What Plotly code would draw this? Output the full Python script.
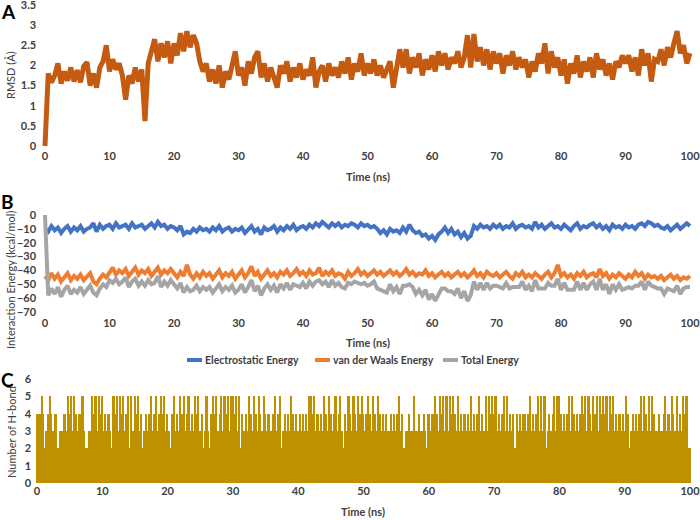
import plotly.graph_objects as go

# time axis: 0 to 100 ns, sampled every 0.5 ns for A and B, 0.25 ns for C
time_ab = [i * 0.5 for i in range(201)]
time_c = [i * 0.25 for i in range(401)]

# Panel A - RMSD (Å)
rmsd = [
    0.00, 1.80, 1.58, 1.75, 2.05, 1.55, 1.85, 1.62, 1.95, 1.60,
    1.88, 1.58, 1.98, 2.08, 1.50, 1.80, 1.45, 1.95, 2.10, 2.50,
    1.85, 2.15, 1.90, 2.05, 1.75, 1.15, 1.75, 1.55, 1.95, 1.60,
    1.90, 0.62, 2.05, 2.30, 2.65, 2.10, 2.55, 2.20, 2.60, 2.05,
    2.55, 2.25, 2.80, 2.35, 2.85, 2.45, 2.75, 2.55, 2.10, 1.85,
    2.05, 1.60, 1.90, 1.55, 2.00, 1.45, 1.85, 1.65, 2.05, 2.35,
    1.75, 1.95, 1.50, 2.10, 1.80, 2.20, 2.35, 1.70, 2.05, 1.60,
    1.95, 1.70, 1.45, 2.00, 1.80, 2.10, 1.60, 1.95, 1.70, 2.05,
    1.65, 1.90, 1.75, 2.20, 1.45, 1.85, 2.00, 1.60, 2.05, 1.75,
    1.95, 1.70, 2.10, 1.80, 2.20, 1.65, 2.05, 1.85, 2.30, 1.75,
    2.05, 1.80, 2.15, 1.75, 2.00, 1.70, 1.95, 2.10, 1.45, 1.85,
    2.40, 1.95, 2.40, 1.80, 2.20, 1.95, 2.30, 1.75, 2.15, 1.90,
    2.25, 1.85, 2.35, 2.00, 2.30, 1.90, 2.20, 2.05, 2.35, 1.95,
    2.20, 2.75, 1.95, 2.78, 2.10, 2.45, 2.00, 2.40, 1.90, 2.35,
    2.05, 2.30, 1.80, 2.25, 2.00, 2.35, 1.90, 2.20, 1.95, 2.15,
    1.70, 2.10, 1.85, 2.30, 2.05, 2.55, 1.80, 2.35, 1.95, 2.20,
    1.75, 2.15, 1.55, 2.05, 1.80, 2.25, 1.70, 2.10, 1.85, 2.20,
    1.70, 2.30, 1.90, 2.15, 1.75, 2.05, 1.65, 2.10, 1.95, 2.25,
    2.05, 2.25, 1.85, 2.20, 1.75, 2.40, 2.00, 2.30, 1.60, 2.15,
    2.10, 2.40, 2.00, 2.45, 2.20, 2.55, 2.85, 2.30, 2.50, 2.05,
    2.30,
]

# Panel B - interaction energies (kcal/mol)
electrostatic = [
    -10, -12, -8, -11, -9, -13, -10, -8, -12, -9,
    -11, -8, -12, -10, -9, -6, -12, -7, -10, -8,
    -7, -10, -6, -9, -8, -7, -10, -6, -9, -8,
    -7, -10, -8, -6, -9, -5, -8, -7, -10, -8,
    -9, -11, -8, -14, -12, -13, -10, -12, -9, -11,
    -10, -12, -9, -11, -8, -12, -10, -9, -12, -10,
    -11, -9, -13, -10, -8, -12, -10, -14, -9, -11,
    -10, -8, -12, -9, -11, -8, -10, -7, -11, -9,
    -8, -10, -7, -9, -6, -8, -5, -7, -9, -6,
    -8, -6, -9, -7, -8, -6, -7, -9, -6, -8,
    -7, -9, -8, -10, -13, -11, -14, -10, -12, -11,
    -13, -9, -12, -7, -11, -13, -12, -15, -14, -17,
    -15, -18, -14, -12, -9, -13, -10, -14, -12, -16,
    -13, -17, -15, -8, -10, -7, -9, -8, -10, -7,
    -9, -7, -10, -8, -9, -6, -10, -8, -7, -9,
    -8, -10, -5, -9, -7, -10, -8, -6, -9, -8,
    -10, -7, -9, -11, -8, -6, -10, -8, -9, -7,
    -6, -9, -7, -10, -8, -11, -7, -9, -8, -10,
    -7, -9, -8, -10, -7, -6, -8, -5, -6, -8,
    -7, -9, -10, -8, -11, -9, -7, -10, -8, -6,
    -8,
]
vdw = [
    -44, -47, -42, -46, -43, -48, -45, -42, -47, -44,
    -46, -43, -47, -44, -42, -48, -50, -46, -43, -45,
    -41, -38, -43, -40, -42, -39, -44, -41, -38, -43,
    -40, -42, -39, -44, -41, -38, -43, -40, -42, -39,
    -42, -45, -41, -44, -36, -43, -46, -42, -45, -41,
    -44, -42, -46, -43, -40, -45, -42, -44, -41, -46,
    -43, -40, -45, -42, -37, -44, -41, -46, -43, -40,
    -44, -42, -45, -41, -43, -40, -44, -42, -39, -43,
    -41, -44, -40, -43, -42, -38, -44, -41, -43, -40,
    -44, -42, -43, -46, -41, -44, -42, -39, -43, -41,
    -44, -42, -40, -43, -41, -44, -42, -40, -43, -41,
    -44, -42, -39, -43, -41, -44, -42, -43, -40, -44,
    -42, -45, -43, -41, -44, -42, -45, -43, -41, -44,
    -42, -45, -43, -40, -44, -42, -45, -41, -43, -44,
    -42, -45, -43, -41, -44, -46, -42, -44, -41, -45,
    -43, -45, -42, -44, -46, -43, -41, -45, -42, -36,
    -44, -42, -45, -43, -46, -42, -44, -41, -45, -43,
    -42, -45, -39, -44, -42, -46, -43, -45, -42, -44,
    -46, -43, -45, -41, -44, -42, -46, -43, -45, -44,
    -46, -44, -47, -45, -43, -46, -44, -47, -45, -46,
    -44,
]
total = [
    0, -58, -53, -57, -52, -59, -54, -51, -57, -54,
    -56, -52, -57, -54, -51, -56, -58, -53, -50, -52,
    -47, -49, -46, -50, -48, -45, -52, -48, -46, -51,
    -48, -51, -47, -50, -49, -44, -52, -48, -51, -47,
    -50, -53, -49, -56, -52, -55, -54, -51, -55, -52,
    -54, -52, -56, -53, -50, -55, -52, -54, -51, -56,
    -54, -50, -56, -52, -47, -55, -51, -58, -53, -50,
    -54, -51, -56, -50, -53, -49, -54, -50, -51, -52,
    -49, -53, -48, -51, -48, -47, -50, -48, -52, -47,
    -51, -49, -52, -53, -49, -50, -48, -49, -50, -49,
    -51, -50, -48, -53, -54, -55, -56, -50, -55, -52,
    -57, -51, -51, -50, -52, -57, -54, -58, -54, -61,
    -57, -62, -57, -53, -53, -55, -55, -57, -53, -60,
    -55, -62, -58, -48, -54, -49, -54, -49, -53, -51,
    -51, -52, -53, -49, -53, -52, -52, -52, -48, -54,
    -51, -55, -47, -53, -53, -53, -49, -51, -51, -46,
    -54, -49, -54, -54, -54, -48, -54, -49, -54, -50,
    -48, -54, -46, -54, -50, -57, -50, -54, -50, -54,
    -53, -52, -53, -51, -51, -48, -54, -48, -51, -52,
    -53, -53, -57, -53, -54, -55, -51, -57, -53, -52,
    -52,
]

# Panel C - number of H-bonds, one digit per 0.25 ns
hbond_rows = [
    "4445423454344233343545354344532233545354",
    "5343432545354534525354534234345345345453",
    "4324534354534534354534235324545345354535",
    "5453524343543543543543433453452343435434",
    "3434343554534343543543453453243543543545",
    "4345435435434343343434534233433533433432",
    "4344543545353545435343434353434534353545",
    "4534345353434243434434534345353523434535",
    "5434345354343454535435453545453545343434",
    "35423434345354353543343345343543534354522",
]
hbonds = [int(c) for c in "".join(hbond_rows)]

legend_names = ["Electrostatic Energy", "van der Waals Energy", "Total Energy"]
legend_colors = ["#4472C4", "#ED7D31", "#A5A5A5"]

W, H = 700, 520
font = "Lato, Open Sans, sans-serif"
ink = "#404040"


def px_x(p):
    return p / W


def px_y(p):
    return 1 - p / H


fig = go.Figure()

fig.add_trace(go.Scatter(
    x=time_ab, y=rmsd, mode="lines", line=dict(color="#C55A11", width=5),
    xaxis="x", yaxis="y", showlegend=False,
))

for name, col, vals in zip(legend_names, legend_colors, [electrostatic, vdw, total]):
    fig.add_trace(go.Scatter(
        x=time_ab, y=vals, mode="lines", name=name,
        line=dict(color=col, width=4), xaxis="x2", yaxis="y2", showlegend=False,
    ))

fig.add_trace(go.Bar(
    x=time_c, y=hbonds, marker=dict(color="#BF9000", line=dict(width=0)),
    xaxis="x3", yaxis="y3", showlegend=False,
))

tick_font = dict(family=font, size=11, color=ink, weight="bold")
common_x = dict(showgrid=False, zeroline=False, showline=False, ticks="",
                tickmode="linear", dtick=10, tick0=0, tickfont=tick_font,
                automargin=False, ticklabeloverflow="allow")
common_y = dict(showgrid=False, zeroline=False, showline=False, ticks="",
                tickfont=tick_font, ticklabelstandoff=4, automargin=False,
                ticklabeloverflow="allow")

# pixel placement: A/B x=0 -> 45px, x=100 -> 690px; C x=0 -> 37px
sa = 6.45
sc = 6.53
fig.update_layout(
    width=W, height=H, margin=dict(l=0, r=0, t=0, b=0),
    plot_bgcolor="white", paper_bgcolor="white",
    font=dict(family=font, color=ink),
    bargap=0, showlegend=False,
    xaxis=dict(common_x, domain=[px_x(45 - 0.6 * sa), px_x(690 + 0.6 * sa)],
               range=[-0.6, 100.6], anchor="y"),
    yaxis=dict(common_y, domain=[px_y(146 + 0.06 * 40.3), px_y(5 - 0.06 * 40.3)],
               range=[-0.06, 3.56], tickmode="linear", dtick=0.5, tick0=0,
               anchor="x"),
    xaxis2=dict(common_x, domain=[px_x(45 - 0.6 * sa), px_x(690 + 0.6 * sa)],
                range=[-0.6, 100.6], anchor="y2"),
    yaxis2=dict(common_y, domain=[px_y(312 + 2 * 1.386), px_y(215 - 1 * 1.386)],
                range=[-72, 1], tickmode="linear", dtick=10, tick0=0, anchor="x2"),
    xaxis3=dict(common_x, domain=[px_x(37 - 0.15 * sc), px_x(690 + 0.15 * sc)],
                range=[-0.15, 100.15], anchor="y3"),
    yaxis3=dict(common_y, domain=[px_y(483), px_y(379)],
                range=[0, 6], tickmode="linear", dtick=1, tick0=0, anchor="x3"),
)

# legend for panel B, laid out like the original (short key line, text right after it)
legend_font = dict(family=font, size=10.5, color=ink, weight="bold")
for name, col, x0 in zip(legend_names, legend_colors, [187, 315, 443]):
    fig.add_shape(type="line", xref="paper", yref="paper",
                  x0=px_x(x0), x1=px_x(x0 + 15), y0=px_y(360), y1=px_y(360),
                  line=dict(color=col, width=4))
    fig.add_annotation(text=name, x=px_x(x0 + 16), y=px_y(360), xref="paper", yref="paper",
                       showarrow=False, font=legend_font, xanchor="left", yanchor="middle")

title_font = dict(family=font, size=11, color=ink, weight="bold")
label_font = dict(family=font, size=11, color=ink)
annos = [
    ("Time (ns)", 368, 176, 0, title_font),
    ("Time (ns)", 368, 342, 0, title_font),
    ("Time (ns)", 363, 511, 0, title_font),
    ("RMSD (Å)", 11, 75, -90, label_font),
    ("Interaction Energy (kcal/mol)", 10, 280, -90, label_font),
    ("Number of H-bond", 11, 432, -90, label_font),
]
for text, x, y, ang, f in annos:
    fig.add_annotation(text=text, x=px_x(x), y=px_y(y), xref="paper", yref="paper",
                       showarrow=False, textangle=ang, font=f,
                       xanchor="center", yanchor="middle")

for letter, x, y in [("A", 8, 11), ("B", 7, 202), ("C", 7, 379)]:
    fig.add_annotation(text=letter, x=px_x(x), y=px_y(y), xref="paper", yref="paper",
                       showarrow=False, font=dict(family=font, size=19, color="black", weight="bold"),
                       xanchor="center", yanchor="middle")

# the page body has a default 8px margin; drop it so the figure sits at the window corner
fig.write_html("out.html", config={"displayModeBar": False},
               post_script="document.body.style.margin = '0';")
